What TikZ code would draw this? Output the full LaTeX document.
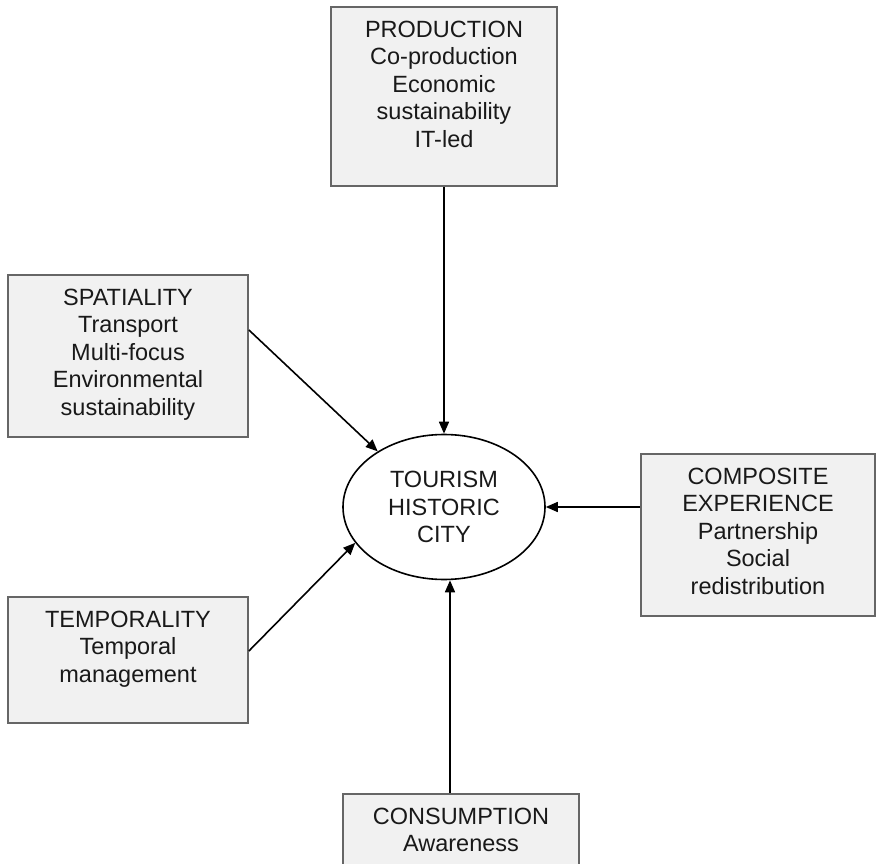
\documentclass[tikz,border=0pt]{standalone}
\usepackage{fontspec}
\setmainfont{Liberation Sans}
\usepackage{tikz}
\usetikzlibrary{arrows.meta, positioning, shapes.geometric}
\definecolor{boxfill}{HTML}{F1F1F1}
\definecolor{boxline}{HTML}{666666}
\tikzset{
  item/.style={draw=boxline, fill=boxfill, line width=1.8pt, rectangle, inner sep=0pt},
  itemtext/.style={align=center, inner sep=0pt, text=black!90, font=\fontsize{23.5}{27.5}\selectfont},
  hub/.style={draw=black, ellipse, line width=1.6pt, minimum width=202pt, minimum height=145pt, inner sep=0pt, align=center, text=black!90, font=\fontsize{23.5}{27.5}\selectfont},
  arrow/.style={line width=1.6pt, -{Triangle[length=12pt,width=10pt]}}
}

\begin{document}
\begin{tikzpicture}[x=1pt, y=-1pt]
    \useasboundingbox (0,0) rectangle (876,864);
    \clip (0,0) rectangle (876,864);
    % nodes
    \node (Production)  [item, minimum width=226pt, minimum height=179pt] at (444,96.5) {};
    \node (Spatiality)  [item, minimum width=240pt, minimum height=162pt] at (128,356) {};
    \node (Temporality) [item, minimum width=240pt, minimum height=126pt] at (128,660) {};
    \node (Composite)   [item, minimum width=234pt, minimum height=162pt] at (758,535) {};
    \node (Consumption) [item, minimum width=236pt, minimum height=106pt] at (461,847) {};
    \node (City)        [hub] at (444,507) {TOURISM\\HISTORIC\\CITY};
    % texts
    \node (ProductionText)  [itemtext, below=14.5pt of Production.north] {PRODUCTION\\Co-production\\Economic\\sustainability\\IT-led};
    \node (SpatialityText)  [itemtext, below=14.5pt of Spatiality.north] {SPATIALITY\\Transport\\Multi-focus\\Environmental\\sustainability};
    \node (TemporalityText) [itemtext, below=14.5pt of Temporality.north] {TEMPORALITY\\Temporal\\management};
    \node (CompositeText)   [itemtext, below=14.5pt of Composite.north] {COMPOSITE\\EXPERIENCE\\Partnership\\Social\\redistribution};
    \node (ConsumptionText) [itemtext, below=14.5pt of Consumption.north] {CONSUMPTION\\Awareness};
    % arrows
    \draw [arrow] (Production.south) -- (City.north);
    \draw [arrow] ([yshift=26pt]Spatiality.east) -- (City.140);
    \draw [arrow] ([yshift=9pt]Temporality.east) -- (City.202);
    \draw [arrow] (City.east -| Composite.west) -- (City.east);
    \draw [arrow] ([xshift=-11pt]Consumption.north) -- ([xshift=-11pt]Consumption.north |- City.south);
\end{tikzpicture}
\end{document}
